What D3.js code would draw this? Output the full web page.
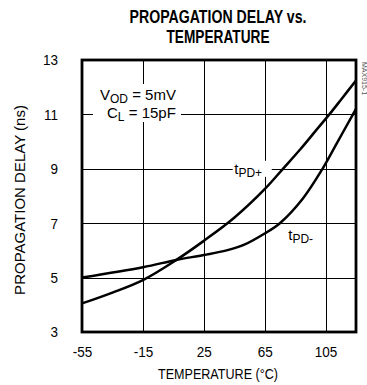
<!DOCTYPE html>
<html>
<head>
<meta charset="utf-8">
<script src="https://cdn.jsdelivr.net/npm/d3@7"></script>
<style>
	body { margin: 0; background: #fff; }
	text { font-family: 'Liberation Sans', Arial, sans-serif; fill: #000; }
	.title { font-weight: bold; font-size: 17.5px; }
	.tick-label { font-size: 15.5px; }
	.axis-label { font-size: 15.5px; }
	.note { font-size: 15px; }
</style>
</head>
<body>
<div id="chart"></div>
<script>
let width = 367
let height = 385

let margins = {
	'top': 60,
	'right': 11,
	'bottom': 53,
	'left': 82,
}

// data
let xTicks = [-55, -15, 25, 65, 105]
let yTicks = [3, 5, 7, 9, 11, 13]

let tpdPlusTemp = [-55, -35, -15, 7, 25, 45, 65, 77, 88, 99, 107.5, 115, 125]
let tpdPlusNs = [4.05, 4.45, 4.91, 5.65, 6.35, 7.2, 8.25, 9.0, 9.69, 10.43, 11.0, 11.53, 12.25]

let tpdMinusTemp = [-55, -15, 7, 25, 40, 52, 65, 75, 90, 103, 113, 123, 125]
let tpdMinusNs = [5.0, 5.38, 5.65, 5.83, 6.0, 6.22, 6.62, 7.0, 7.9, 9.0, 10.0, 11.0, 11.2]

let innerW = width - margins.left - margins.right
let innerH = height - margins.top - margins.bottom

// squeeze text to the narrow face of the original
function condense(sel, k) {
	sel.each(function() {
		let len = this.getComputedTextLength()
		d3.select(this)
			.attr('textLength', len * k)
			.attr('lengthAdjust', 'spacingAndGlyphs')
	})
}

let xScale = d3.scaleLinear()
	.domain([-55, 125])
	.range([0, innerW])

let yScale = d3.scaleLinear()
	.domain([3, 13])
	.range([innerH, 0])

let svg = d3.select('#chart').append('svg')
	.attr('width', width)
	.attr('height', height)

svg.append('text')
	.attr('class', 'title')
	.attr('x', 218)
	.attr('y', 22.5)
	.attr('text-anchor', 'middle')
	.attr('textLength', 177)
	.attr('lengthAdjust', 'spacingAndGlyphs')
	.text('PROPAGATION DELAY vs.')

svg.append('text')
	.attr('class', 'title')
	.attr('x', 218)
	.attr('y', 42.5)
	.attr('text-anchor', 'middle')
	.attr('textLength', 103)
	.attr('lengthAdjust', 'spacingAndGlyphs')
	.text('TEMPERATURE')

let inner = svg.append('g')
	.attr('transform', 'translate(' + margins.left + ',' + margins.top + ')')

// grid
let grid = inner.append('g')
grid.selectAll('.vgrid')
	.data(xTicks.slice(1))
	.enter().append('line')
	.attr('x1', (d) => Math.round(xScale(d)) + 0.5)
	.attr('x2', (d) => Math.round(xScale(d)) + 0.5)
	.attr('y1', 0)
	.attr('y2', innerH)
	.attr('stroke', '#000')
	.attr('stroke-width', 1)

grid.selectAll('.hgrid')
	.data(yTicks.slice(1, -1))
	.enter().append('line')
	.attr('x1', 0)
	.attr('x2', innerW)
	.attr('y1', (d) => Math.round(yScale(d)) + 0.5)
	.attr('y2', (d) => Math.round(yScale(d)) + 0.5)
	.attr('stroke', '#000')
	.attr('stroke-width', 1)

// axis tick labels
let xAxis = d3.axisBottom(xScale)
	.tickValues(xTicks)
	.tickFormat((d) => String(d))
	.tickSize(0)
	.tickPadding(14)

let yAxis = d3.axisLeft(yScale)
	.tickValues(yTicks)
	.tickFormat((d) => String(d))
	.tickSize(0)
	.tickPadding(24)

let xg = inner.append('g')
	.attr('transform', `translate(0,${innerH})`)
	.call(xAxis)
let yg = inner.append('g').call(yAxis)

;[xg, yg].forEach((g) => {
	g.select('.domain').remove()
	g.attr('font-family', null).attr('font-size', null)
	g.selectAll('text').attr('class', 'tick-label')
	condense(g.selectAll('text'), 0.87)
})

// notes with white backing
function note(x, y, main, sub, rest) {
	let t = inner.append('text')
		.attr('class', 'note')
		.attr('x', x)
		.attr('y', y)
	t.append('tspan').text(main)
	t.append('tspan').attr('dy', 3).attr('font-size', 12).text(sub)
	if (rest) t.append('tspan').attr('dy', -3).text(rest)
	return t
}

inner.append('rect')
	.attr('x', 11).attr('y', 24)
	.attr('width', 88).attr('height', 38)
	.attr('fill', '#fff')

note(18, 40, 'V', 'OD', ' = 5mV')
note(25, 58, 'C', 'L', ' = 15pF')

inner.append('rect')
	.attr('x', xScale(44)).attr('y', yScale(9) - 8)
	.attr('width', 39).attr('height', 16)
	.attr('fill', '#fff')

note(xScale(45), yScale(8.82), 't', 'PD+')
note(xScale(80.5), yScale(6.4), 't', 'PD-')

// curves
let line = d3.line()
	.x((d) => xScale(d[0]))
	.y((d) => yScale(d[1]))
	.curve(d3.curveCatmullRom.alpha(0.5))

let curves = inner.append('g')
curves.append('path')
	.datum(tpdPlusTemp.map((t, i) => [t, tpdPlusNs[i]]))
	.attr('d', line)
	.attr('fill', 'none')
	.attr('stroke', '#000')
	.attr('stroke-width', 2.5)

curves.append('path')
	.datum(tpdMinusTemp.map((t, i) => [t, tpdMinusNs[i]]))
	.attr('d', line)
	.attr('fill', 'none')
	.attr('stroke', '#000')
	.attr('stroke-width', 2.5)

// frame
inner.append('rect')
	.attr('x', 0).attr('y', 0)
	.attr('width', innerW).attr('height', innerH)
	.attr('fill', 'none')
	.attr('stroke', '#000')
	.attr('stroke-width', 2.8)

// axis titles
svg.append('text')
	.attr('class', 'axis-label')
	.attr('x', 218)
	.attr('y', 379)
	.attr('text-anchor', 'middle')
	.attr('textLength', 120)
	.attr('lengthAdjust', 'spacingAndGlyphs')
	.text('TEMPERATURE (°C)')

svg.append('text')
	.attr('transform', 'translate(25,200) rotate(-90)')
	.attr('text-anchor', 'middle')
	.style('font-size', '15px')
	.text('PROPAGATION DELAY (ns)')

svg.append('text')
	.attr('transform', 'translate(362,62) rotate(90)')
	.style('font-size', '7px')
	.style('fill', '#555')
	.text('MAX915-1')
</script>
</body>
</html>
